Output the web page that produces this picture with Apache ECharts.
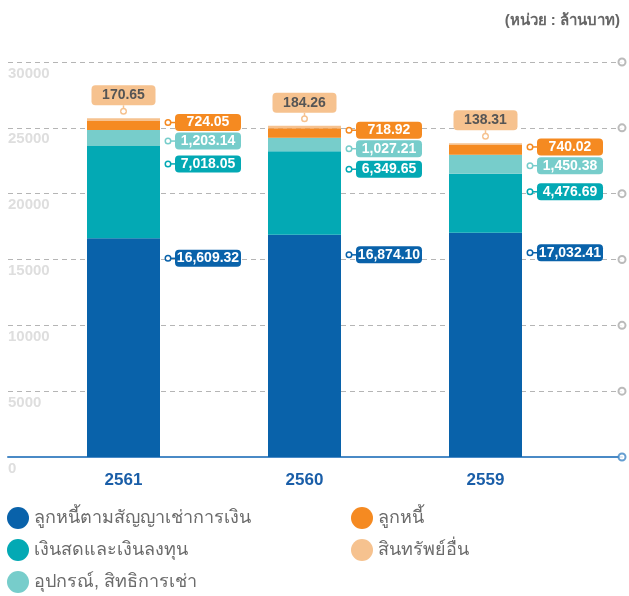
<!DOCTYPE html>
<html>
  <head>
    <meta charset="utf-8" />
    <title>Assets</title>
    <script src="https://cdnjs.cloudflare.com/ajax/libs/echarts/6.0.0/echarts.min.js"></script>
  </head>
  <body>
    <style>
      html, body { margin: 0; padding: 0; background: #fff; }
      #main { width: 629px; height: 596px; }
    </style>
    <div id="main"></div>
    <script type="text/javascript">
      var years = ['2561', '2560', '2559'];
      var names = ['ลูกหนี้ตามสัญญาเช่าการเงิน', 'เงินสดและเงินลงทุน', 'อุปกรณ์, สิทธิการเช่า', 'ลูกหนี้', 'สินทรัพย์อื่น'];
      var colors = ['#0962aa', '#03a9b4', '#77cdcb', '#f58a21', '#f6c28f'];
      var leaseReceivable = [16609.32, 16874.10, 17032.41];
      var cashInvest = [7018.05, 6349.65, 4476.69];
      var equipment = [1203.14, 1027.21, 1450.38];
      var receivable = [724.05, 718.92, 740.02];
      var otherAssets = [170.65, 184.26, 138.31];
      var yTicks = [0, 5000, 10000, 15000, 20000, 25000, 30000];

      var FONT = '"Liberation Sans", Arial, sans-serif';

      function fmt(v) {
        return v.toLocaleString('en-US', { minimumFractionDigits: 2, maximumFractionDigits: 2 });
      }

      // label sits a few px below the top of each segment
      var labelOffset = [20, 18, 11, 2];

      function sideLabel(i) {
        var c = colors[i];
        return {
          show: true,
          position: ['100%', labelOffset[i]],
          offset: [6, 0],
          align: 'left',
          verticalAlign: 'middle',
          formatter: function (p) { return '{dot|}{ln|}{box|' + fmt(p.value) + '}'; },
          rich: {
            dot: { width: 4, height: 4, borderRadius: 4, borderWidth: 1.5, borderColor: c, backgroundColor: '#fff' },
            ln: { width: 5, height: 1.5, backgroundColor: c },
            box: {
              width: 66, height: 17, align: 'center', backgroundColor: c, borderRadius: 4,
              color: '#fff', fontFamily: FONT, fontWeight: 'bold', fontSize: 14
            }
          }
        };
      }

      var data = [leaseReceivable, cashInvest, equipment, receivable, otherAssets];
      var series = data.map(function (d, i) {
        var s = {
          name: names[i],
          type: 'bar',
          stack: 'total',
          xAxisIndex: 1,
          yAxisIndex: 1,
          barWidth: 73,
          itemStyle: { color: colors[i] },
          data: d
        };
        if (i < 4) {
          s.label = sideLabel(i);
        } else {
          s.label = {
            show: true,
            position: 'top',
            distance: 5,
            align: 'center',
            formatter: function (p) { return '{box|' + fmt(p.value) + '}\n{vl|}\n{dot|}'; },
            rich: {
              box: {
                width: 64, height: 20, align: 'center', backgroundColor: colors[4], borderRadius: 4,
                color: '#555', fontFamily: FONT, fontWeight: 'bold', fontSize: 14
              },
              vl: { width: 1.5, height: 4, backgroundColor: colors[4] },
              dot: { width: 4, height: 4, borderRadius: 4, borderWidth: 1.5, borderColor: colors[4], backgroundColor: '#fff' }
            }
          };
        }
        return s;
      });

      // open circles at the right end of each grid line
      series.push({
        type: 'scatter',
        xAxisIndex: 0,
        yAxisIndex: 0,
        silent: true,
        symbol: 'emptyCircle',
        symbolSize: 7,
        clip: false,
        z: 5,
        data: yTicks.map(function (t) {
          return {
            value: [1, t],
            itemStyle: { color: t === 0 ? '#3f86c6' : '#aaaaaa', borderWidth: 1.5 }
          };
        })
      });

      var legendBase = {
        orient: 'vertical',
        top: 507,
        padding: 0,
        icon: 'circle',
        itemWidth: 22,
        itemHeight: 22,
        itemGap: 10,
        textStyle: { fontSize: 18, color: '#6b6b6b' }
      };

      var chart = echarts.init(document.getElementById('main'));
      chart.setOption({
        animation: false,
        color: colors,
        title: {
          text: '(หน่วย : ล้านบาท)',
          right: 4,
          top: 8,
          textStyle: { fontSize: 15, fontWeight: 'bold', color: '#666' }
        },
        legend: [
          Object.assign({}, legendBase, { data: names.slice(0, 3), left: 7 }),
          Object.assign({}, legendBase, { data: names.slice(3), left: 351 })
        ],
        grid: [
          { left: 8, right: 7, top: 62, bottom: 139 },
          { left: 33, right: 53, top: 62, bottom: 139 }
        ],
        xAxis: [
          {
            type: 'value', gridIndex: 0, min: 0, max: 1,
            axisLine: { show: true, onZero: false, lineStyle: { color: '#4a8ac6', width: 2 } },
            axisTick: { show: false }, axisLabel: { show: false }, splitLine: { show: false }
          },
          {
            type: 'category', gridIndex: 1, data: years,
            axisLine: { show: false }, axisTick: { show: false },
            axisLabel: { margin: 15, color: '#1a5ea8', fontFamily: FONT, fontWeight: 'bold', fontSize: 17 }
          }
        ],
        yAxis: [
          {
            type: 'value', gridIndex: 0, min: 0, max: 30000, interval: 5000,
            axisLine: { show: false }, axisTick: { show: false },
            axisLabel: {
              inside: true, margin: 0, verticalAlign: 'top', padding: [4, 0, 0, 0],
              color: '#dedede', fontFamily: FONT, fontWeight: 'bold', fontSize: 15,
              showMinLabel: true, showMaxLabel: true,
              formatter: function (v) { return String(v); }
            },
            splitLine: { lineStyle: { color: '#b5b5b5', type: [5, 4], width: 1.2 } }
          },
          {
            type: 'value', gridIndex: 1, min: 0, max: 30000, interval: 5000,
            show: false, splitLine: { show: false }
          }
        ],
        series: series
      });
    </script>
  </body>
</html>
